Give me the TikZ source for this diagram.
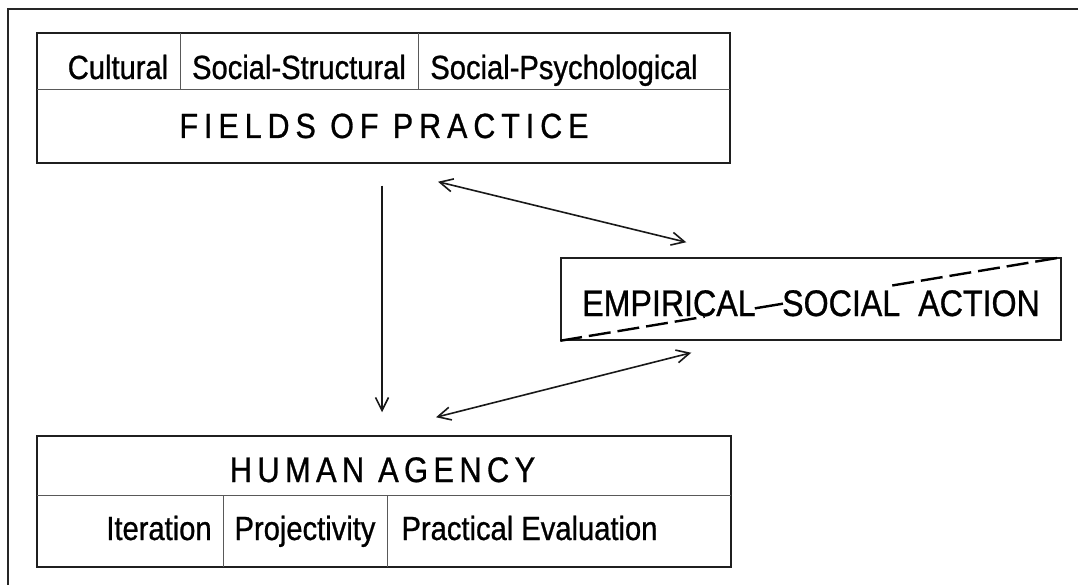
\documentclass[tikz,border=0pt]{standalone}
\usepackage{fontspec}
\setmainfont{Liberation Sans}[FakeStretch=0.87, FakeBold=0.8]
\newfontfamily\capsfont{Liberation Sans}[FakeStretch=0.87, FakeBold=0.8, LetterSpace=17]
\newfontfamily\capsfontb{Liberation Sans}[FakeStretch=0.87, FakeBold=0.8, LetterSpace=15]
\usetikzlibrary{arrows.meta,calc}
\tikzset{
  boxline/.style={draw=black!88, line width=1.5pt},
  divline/.style={draw=black!65, line width=1pt},
  framebox/.style={boxline, rectangle, inner sep=0pt, fill=none},
  lbl/.style={inner sep=0pt, anchor=base, font=\fontsize{33.5}{40}\selectfont},
  capslbl/.style={inner sep=0pt, anchor=base, font=\capsfont\fontsize{35}{42}\selectfont},
  capslblb/.style={inner sep=0pt, anchor=base, font=\capsfontb\fontsize{35.5}{42}\selectfont},
  esalbl/.style={inner sep=0pt, anchor=base, font=\fontsize{37}{44}\selectfont},
  arr/.style={draw=black!90, line width=1.6pt, -{Straight Barb[length=13pt,width=13pt,line width=1.6pt]}},
  darr/.style={draw=black!90, line width=1.6pt, {Straight Barb[length=13pt,width=13pt,line width=1.6pt]}-{Straight Barb[length=13pt,width=13pt,line width=1.6pt]}},
  diag/.style={draw=black, line width=2.4pt, dash pattern=on 22pt off 7pt},
  outer/.style={draw=black!85, line width=1.5pt}
}
\begin{document}
\begin{tikzpicture}[x=1pt, y=-1pt]
\useasboundingbox (0,0) rectangle (1078,585);
\fill[white] (0,0) rectangle (1078,585);
% outer frame (top and left only)
\draw[outer] (8,585) -- (8,9) -- (1078,9);

% Fields of practice box
\node[framebox, minimum width=693pt, minimum height=130pt] (fop) at (383.5,98) {};
\draw[divline] (37,90) -- (730,90);
\draw[divline] (180,33) -- (180,90);
\draw[divline] (418,33) -- (418,90);
\node[lbl] (cult) at (118,79) {Cultural};
\node[lbl] (sstr) at (299,79) {Social-Structural};
\node[lbl] (spsy) at (564,79) {Social-Psychological};
\node[capslbl] (foptxt) at (384,138) {FIELDS OF PRACTICE};

% Human agency box
\node[framebox, minimum width=694pt, minimum height=131pt] (ha) at (384,501.5) {};
\draw[divline] (37,495) -- (731,495);
\draw[divline] (223,495) -- (223,567);
\draw[divline] (387,495) -- (387,567);
\node[capslblb] (hatxt) at (382.5,482) {HUMAN AGENCY};
\node[lbl] (iter) at (159,540) {Iteration};
\node[lbl] (proj) at (305,540) {Projectivity};
\node[lbl] (prac) at (529.5,540) {Practical Evaluation};

% Empirical-social action box
\node[framebox, minimum width=500pt, minimum height=82pt] (esa) at (811,299) {};
\node[esalbl] (esatxt) at (811,316) {EMPIRICAL\hspace{26.5pt}SOCIAL\hspace{18pt}ACTION};
\draw[diag] ($(esa.south west)!0!(esa.north east)$) -- ($(esa.south west)!0.288!(esa.north east)$);
\draw[diag, dash pattern=on 30pt off 1pt] ($(esa.south west)!0.388!(esa.north east)$) -- ($(esa.south west)!0.444!(esa.north east)$);
\draw[diag] ($(esa.south west)!0.662!(esa.north east)$) -- ($(esa.south west)!1!(esa.north east)$);

% connectors
\draw[arr, shorten <=22pt, shorten >=23pt] ([xshift=-1.5pt]fop.south) -- ([xshift=-2pt]ha.north);
\draw[darr] ([shift={(54.5,18)}]fop.south) -- ([shift={(126,-15)}]esa.north west);
\draw[darr] ([shift={(52,-18)}]ha.north) -- ([shift={(131,12)}]esa.south west);
\end{tikzpicture}
\end{document}
